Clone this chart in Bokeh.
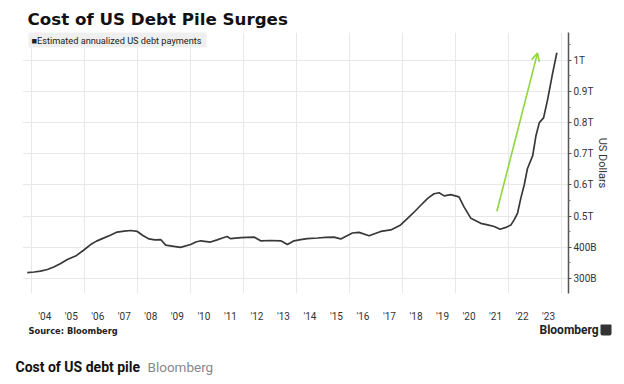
from bokeh.plotting import figure
from bokeh.models import FixedTicker, Label, Arrow, OpenHead, BoxAnnotation, Range1d
from bokeh.embed import file_html
from bokeh.resources import INLINE

# ---- data ----
years = [2003.84, 2004.1, 2004.34, 2004.6, 2004.84, 2005.1, 2005.35, 2005.66, 2005.95,
         2006.23, 2006.45, 2006.67, 2006.95, 2007.23, 2007.5, 2007.74, 2007.99, 2008.2,
         2008.43, 2008.65, 2008.87, 2009.06, 2009.3, 2009.62, 2010.0, 2010.2, 2010.38,
         2010.75, 2011.0, 2011.2, 2011.38, 2011.5, 2011.9, 2012.39, 2012.64, 2013.0,
         2013.4, 2013.65, 2013.9, 2014.15, 2014.4, 2014.78, 2015.1, 2015.4, 2015.66,
         2016.1, 2016.35, 2016.73, 2017.17, 2017.55, 2017.92, 2018.18, 2018.45, 2018.68,
         2018.95, 2019.18, 2019.37, 2019.56, 2019.81, 2020.12, 2020.31, 2020.57, 2020.94,
         2021.2, 2021.45, 2021.67, 2021.89, 2022.08, 2022.2, 2022.33, 2022.45, 2022.58,
         2022.7, 2022.9, 2023.02, 2023.15, 2023.31, 2023.46, 2023.65, 2023.81]
payments_bn = [319, 321, 324, 329, 337, 348, 361, 372, 390,
               409, 420, 428, 438, 449, 452, 454, 451, 438,
               427, 424, 425, 407, 404, 400, 409, 417, 421,
               417, 424, 430, 435, 428, 431, 433, 421, 422,
               421, 409, 421, 425, 428, 430, 432, 433, 427,
               446, 448, 437, 451, 456, 472, 493, 515, 535,
               558, 572, 575, 565, 569, 562, 530, 493, 477,
               472, 467, 458, 464, 472, 488, 510, 557, 600,
               652, 694, 757, 800, 815, 873, 958, 1024]

tick_years = list(range(2004, 2024))
tick_labels = ["'04", "'05", "'06", "'07", "'08", "'09", "'10", "'11", "'12", "'13",
               "'14", "'15", "'16", "'17", "'18", "'19", "'20", "'21", "'22", "'23"]
grid_years = list(range(2004, 2025, 2))
y_ticks = [300, 400, 500, 600, 700, 800, 900, 1000]
y_tick_labels = ["300B", "400B", "0.5T", "0.6T", "0.7T", "0.8T", "0.9T", "1T"]
y_minor = [250, 350, 450, 550, 650, 750, 850, 950, 1050]
arrow_from = [2021.55, 516]
arrow_to = [2023.08, 1023]

GREEN = "#8ed63c"
DARK = "#383838"
W = 624


def blank(height):
    f = figure(width=W, height=height, output_backend="svg", toolbar_location=None,
               x_axis_type=None, y_axis_type=None, x_range=Range1d(0, 1), y_range=Range1d(0, 1),
               min_border=0, min_border_left=0, min_border_right=0,
               min_border_top=0, min_border_bottom=0)
    f.outline_line_color = None
    f.xgrid.visible = False
    f.ygrid.visible = False
    f.background_fill_color = "white"
    f.border_fill_color = "white"
    return f


# ---------------- header (page y 0..32) ----------------
HEAD_H = 32
head = blank(HEAD_H)
head.add_layout(Label(x=27, y=HEAD_H - 28.5, x_units="screen", y_units="screen",
                      text="Cost of US Debt Pile Surges", text_font="DejaVu Sans",
                      text_font_style="bold", text_font_size="16.7px", text_color="#111111",
                      text_baseline="bottom"))

# ---------------- main chart (page y 32..324) ----------------
p = figure(width=W, height=292, output_backend="svg", toolbar_location=None,
           x_range=Range1d(2003.66, 2024.25), y_range=Range1d(252, 1089),
           y_axis_location="right",
           min_border_left=22, min_border_right=56, min_border_top=0, min_border_bottom=28)
p.outline_line_color = None
p.background_fill_color = "white"
p.border_fill_color = "white"

p.xgrid.ticker = FixedTicker(ticks=grid_years)
p.ygrid.ticker = FixedTicker(ticks=y_ticks)
p.xgrid.grid_line_color = "#e8e8e8"
p.ygrid.grid_line_color = "#e8e8e8"

xt = [y + 0.5 for y in tick_years]
p.xaxis.ticker = FixedTicker(ticks=xt)
p.xaxis.major_label_overrides = {t: l for t, l in zip(xt, tick_labels)}
p.xaxis.axis_line_color = None
p.xaxis.major_tick_line_color = None
p.xaxis.major_tick_out = 0
p.xaxis.major_tick_in = 0
p.xaxis.minor_tick_line_color = None
p.xaxis.minor_tick_out = 0
p.xaxis.major_label_standoff = 17
p.xaxis.major_label_text_font = "Roboto"
p.xaxis.major_label_text_font_size = "10px"
p.xaxis.major_label_text_color = "#333333"

p.yaxis.ticker = FixedTicker(ticks=y_ticks, minor_ticks=y_minor)
p.yaxis.major_label_overrides = {t: l for t, l in zip(y_ticks, y_tick_labels)}
p.yaxis.axis_line_color = "#555555"
p.yaxis.axis_line_width = 1.5
p.yaxis.major_tick_line_color = "#555555"
p.yaxis.major_tick_in = 0
p.yaxis.major_tick_out = 3
p.yaxis.minor_tick_line_color = "#777777"
p.yaxis.minor_tick_in = 0
p.yaxis.minor_tick_out = 2
p.yaxis.major_label_standoff = 2
p.yaxis.major_label_text_font = "Roboto"
p.yaxis.major_label_text_font_size = "10px"
p.yaxis.major_label_text_color = "#333333"
p.yaxis.axis_label = "US Dollars"
p.yaxis.axis_label_text_font = "Roboto"
p.yaxis.axis_label_text_font_style = "normal"
p.yaxis.axis_label_text_font_size = "11px"
p.yaxis.axis_label_text_color = "#333333"
p.yaxis.axis_label_standoff = -4

p.line(years, payments_bn, line_color=DARK, line_width=1.7)

p.add_layout(Arrow(end=OpenHead(size=8, line_color=GREEN, line_width=1.6),
                   x_start=arrow_from[0], y_start=arrow_from[1],
                   x_end=arrow_to[0], y_end=arrow_to[1],
                   line_color=GREEN, line_width=1.6))

# frame: left page x 22, bottom page y 296
def fx(px):
    return px - 22
def fy(py):
    return 296 - py

p.add_layout(BoxAnnotation(left=fx(28), right=fx(206), top=fy(32), bottom=fy(50),
                           left_units="screen", right_units="screen",
                           top_units="screen", bottom_units="screen",
                           fill_color="#efefef", fill_alpha=1, line_color=None))
p.add_layout(Label(x=fx(31), y=fy(42.5), x_units="screen", y_units="screen",
                   text="\u25a0Estimated annualized US debt payments",
                   text_font="Roboto", text_font_size="9.2px", text_color="#222222",
                   text_baseline="middle"))

# ---------------- footer (page y 324..384) ----------------
FOOT_TOP = 324
FOOT_H = 60
foot = blank(FOOT_H)
def gy(py):
    return FOOT_TOP + FOOT_H - py

foot.add_layout(Label(x=28, y=gy(330), x_units="screen", y_units="screen",
                      text="Source: Bloomberg", text_font="DejaVu Sans",
                      text_font_style="bold", text_font_size="8.3px", text_color="#222222",
                      text_baseline="middle"))
foot.add_layout(Label(x=539, y=gy(329), x_units="screen", y_units="screen",
                      text="Bloomberg", text_font="Roboto",
                      text_font_style="bold", text_font_size="12px", text_color="#222222",
                      text_baseline="middle"))
# logo mark
foot.add_layout(BoxAnnotation(left=600, right=611, top=gy(323), bottom=gy(335),
                              left_units="screen", right_units="screen",
                              top_units="screen", bottom_units="screen",
                              fill_color="#333333", fill_alpha=1, line_color=None,
                              border_radius=2))
foot.add_layout(Label(x=15, y=gy(366), x_units="screen", y_units="screen",
                      text="Cost of US debt pile", text_font="Roboto",
                      text_font_style="bold", text_font_size="14px", text_color="#111111",
                      text_baseline="middle"))
foot.add_layout(Label(x=147, y=gy(366), x_units="screen", y_units="screen",
                      text="Bloomberg", text_font="Roboto",
                      text_font_size="13.5px", text_color="#888888",
                      text_baseline="middle"))

# three independent roots, stacked (no cross-plot frame alignment)
open("out.html", "w").write(file_html([head, p, foot], INLINE))
